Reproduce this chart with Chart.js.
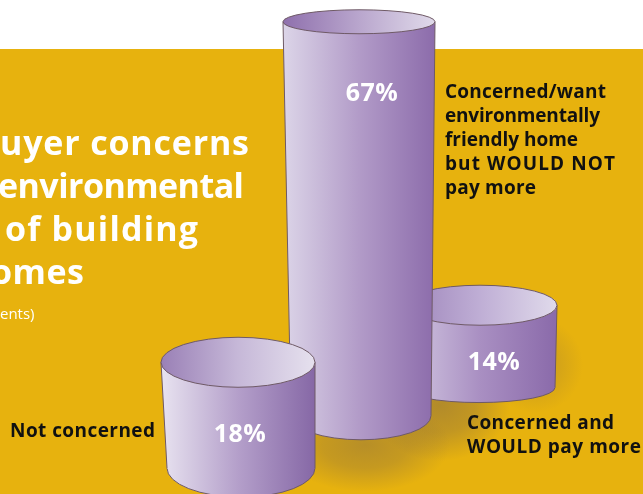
<!DOCTYPE html>
<html>
<head>
<meta charset="utf-8">
<title>Buyer concerns</title>
<script src="https://cdn.jsdelivr.net/npm/chart.js@4"></script>
<style>
  html, body { margin: 0; padding: 0; background: #fff; overflow: hidden; }
  canvas { display: block; }
</style>
</head>
<body>
<canvas id="cylinders" width="643" height="494"></canvas>
<script>
const categories = ['Not concerned', 'Concerned, would not pay more', 'Concerned and would pay more'];
const percents = [18, 67, 14];
// where each cylinder floats on the value axis
const floorValues = [4.4, 13.3, 18.1];

const titleLines = ['uyer concerns', 'environmental', 'of building', 'omes'];
const subtitle = 'ents)';
const notConcernedLines = ['Not concerned'];
const wouldNotPayLines = ['Concerned/want', 'environmentally', 'friendly home', 'but WOULD NOT', 'pay more'];
const wouldPayLines = ['Concerned and', 'WOULD pay more'];

// cylinder shape, one entry per bar
const barWidths = [154, 152, 154];
const topRadiusY = [25, 12, 20];
const bottomRadiusY = [29, 24, 15];
const bottomInsets = [[6, 0], [8, 4], [0, 2]];
const bodyStops = [
  ['#e8e3f0', '#b49fca', '#8668a6'],
  ['#dcd5e8', '#b29bc8', '#8c6cab'],
  ['#d3c9e2', '#a98fc2', '#8a6aaa']
];
const capStops = [
  ['#9a80b6', '#c6b8d8', '#e6e1ee'],
  ['#8f70ad', '#b9a6cd', '#e0daea'],
  ['#9d84ba', '#bfaed5', '#e0daeb']
];
const edgeColor = '#6f5a66';

function sideGradient(ctx, cx, half, stops) {
  const g = ctx.createLinearGradient(cx - half, 0, cx + half, 0);
  g.addColorStop(0, stops[0]);
  g.addColorStop(0.5, stops[1]);
  g.addColorStop(1, stops[2]);
  return g;
}

function bodyFill(context) {
  const chart = context.chart;
  const i = context.datasetIndex;
  const cx = chart.scales.x ? chart.scales.x.getPixelForValue(i) : NaN;
  // the scale has no pixels yet on the first option pass
  if (!Number.isFinite(cx)) return bodyStops[i][1];
  return sideGradient(chart.ctx, cx, barWidths[i] / 2, bodyStops[i]);
}

function bottomShape(el, i) {
  const half = el.width / 2;
  const left = el.x - half + bottomInsets[i][0];
  const right = el.x + half - bottomInsets[i][1];
  return { left, right, cx: (left + right) / 2, rx: (right - left) / 2 };
}

// bars paint the sides; the rounded floor and the open top go around them
const cylinderPlugin = {
  id: 'cylinderPlugin',
  beforeDatasetDraw(chart, args) {
    const i = args.index;
    const el = args.meta.data[i];
    const ctx = chart.ctx;
    const b = bottomShape(el, i);
    const half = el.width / 2;
    ctx.beginPath();
    ctx.ellipse(b.cx, el.base, b.rx, bottomRadiusY[i], 0, 0, Math.PI);
    ctx.fillStyle = sideGradient(ctx, el.x, half, bodyStops[i]);
    ctx.fill();
    ctx.strokeStyle = edgeColor;
    ctx.lineWidth = 1;
    ctx.stroke();

    ctx.save();
    ctx.beginPath();
    ctx.moveTo(el.x - half, el.y);
    ctx.lineTo(el.x + half, el.y);
    ctx.lineTo(b.right, el.base + 1);
    ctx.lineTo(b.left, el.base + 1);
    ctx.closePath();
    ctx.clip();
  },
  afterDatasetDraw(chart, args) {
    const i = args.index;
    const el = args.meta.data[i];
    const ctx = chart.ctx;
    ctx.restore();

    const b = bottomShape(el, i);
    const half = el.width / 2;
    ctx.strokeStyle = edgeColor;
    ctx.lineWidth = 1;
    ctx.beginPath();
    ctx.moveTo(el.x - half, el.y);
    ctx.lineTo(b.left, el.base);
    ctx.moveTo(el.x + half, el.y);
    ctx.lineTo(b.right, el.base);
    ctx.stroke();

    ctx.beginPath();
    ctx.ellipse(el.x, el.y, half, topRadiusY[i], 0, 0, Math.PI * 2);
    ctx.fillStyle = sideGradient(ctx, el.x, half, capStops[i]);
    ctx.fill();
    ctx.stroke();
  }
};

// white page, gold panel and the soft shadows on it
const panelPlugin = {
  id: 'panelPlugin',
  beforeDraw(chart) {
    const ctx = chart.ctx;
    ctx.fillStyle = '#ffffff';
    ctx.fillRect(0, 0, 643, 494);
    ctx.fillStyle = '#e7b20e';
    ctx.fillRect(0, 49, 643, 445);

    const soft = (x, y, r, sy, alpha) => {
      ctx.save();
      ctx.translate(x, y);
      ctx.scale(1, sy);
      const g = ctx.createRadialGradient(0, 0, 0, 0, 0, r);
      g.addColorStop(0, 'rgba(125,100,70,' + alpha + ')');
      g.addColorStop(0.5, 'rgba(125,100,70,' + alpha * 0.7 + ')');
      g.addColorStop(1, 'rgba(125,100,70,0)');
      ctx.fillStyle = g;
      ctx.fillRect(-r, -r, r * 2, r * 2);
      ctx.restore();
    };
    soft(440, 405, 70, 0.8, 0.5);
    soft(365, 445, 85, 0.55, 0.45);
    soft(535, 365, 48, 1, 0.25);
  }
};

// spreads a line so it runs from x to right
function fitText(ctx, text, x, y, right) {
  ctx.letterSpacing = '0px';
  const natural = ctx.measureText(text).width;
  ctx.letterSpacing = (right - x - natural) / (text.length - 1) + 'px';
  ctx.fillText(text, x, y);
}

const labelPlugin = {
  id: 'labelPlugin',
  afterDraw(chart) {
    const ctx = chart.ctx;
    ctx.textBaseline = 'alphabetic';
    ctx.textAlign = 'left';

    ctx.fillStyle = '#ffffff';
    ctx.font = 'bold 34px "Open Sans"';
    [[0, 155, 249], [-2, 198, 244], [5, 241, 198], [-9, 284, 84]].forEach(([x, y, right], n) => {
      fitText(ctx, titleLines[n], x, y, right);
    });
    ctx.font = '15px "Open Sans"';
    ctx.letterSpacing = '0px';
    ctx.fillText(subtitle, 0, 319);

    ctx.fillStyle = '#111111';
    ctx.font = 'bold 19px "Open Sans"';
    fitText(ctx, notConcernedLines[0], 10, 437, 155);
    [606, 600, 578, 615, 536].forEach((right, n) => {
      fitText(ctx, wouldNotPayLines[n], 445, 97.5 + n * 24, right);
    });
    [614, 641].forEach((right, n) => {
      fitText(ctx, wouldPayLines[n], 467, 429 + n * 24, right);
    });

    ctx.fillStyle = '#ffffff';
    ctx.font = 'bold 25px "Open Sans"';
    ctx.letterSpacing = '0.5px';
    ctx.textAlign = 'center';
    const centers = [[240, 442], [372, 101], [494, 370]];
    percents.forEach((p, i) => ctx.fillText(p + '%', centers[i][0], centers[i][1]));
  }
};

new Chart(document.getElementById('cylinders'), {
  type: 'bar',
  data: {
    labels: categories,
    datasets: categories.map((name, i) => ({
      label: name,
      data: categories.map((_, j) => (j === i ? [floorValues[i], floorValues[i] + percents[i]] : null)),
      backgroundColor: bodyFill,
      borderWidth: 0,
      barThickness: barWidths[i],
      grouped: false,
      clip: false
    }))
  },
  options: {
    responsive: false,
    animation: false,
    layout: { padding: { left: 177.5, right: 102.5, top: 0, bottom: 0 } },
    scales: {
      x: { display: false },
      y: { display: false, min: 0, max: 84 }
    },
    plugins: {
      legend: { display: false },
      tooltip: { enabled: false },
      title: { display: false }
    }
  },
  plugins: [panelPlugin, cylinderPlugin, labelPlugin]
});
</script>
</body>
</html>
